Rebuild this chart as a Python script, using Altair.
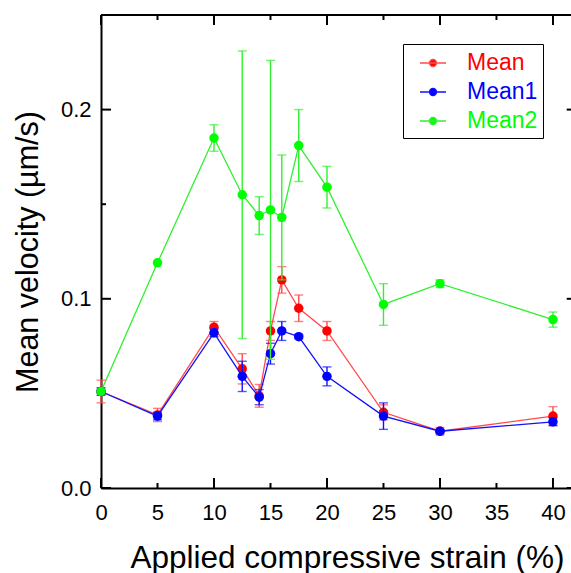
import altair as alt
import pandas as pd

# ---------------- data ----------------
strain = [0, 5, 10, 12.5, 14, 15, 16, 17.5, 20, 25, 30, 40]

mean = [0.051, 0.0386, 0.085, 0.063, 0.0487, 0.083, 0.110, 0.095, 0.083, 0.040, 0.030, 0.038]
mean_err = [0.006, 0.0035, 0.003, 0.008, 0.006, 0.005, 0.007, 0.007, 0.005, 0.004, 0.002, 0.005]

mean1 = [0.051, 0.038, 0.082, 0.059, 0.048, 0.071, 0.083, 0.080, 0.059, 0.038, 0.030, 0.035]
mean1_err = [0.002, 0.002, 0.002, 0.008, 0.004, 0.0055, 0.005, 0.001, 0.005, 0.007, 0.001, 0.002]

mean2 = [0.051, 0.119, 0.185, 0.155, 0.144, 0.147, 0.143, 0.181, 0.159, 0.097, 0.108, 0.089]
mean2_err = [0.0, 0.0, 0.007, 0.076, 0.010, 0.079, 0.033, 0.019, 0.011, 0.011, 0.002, 0.004]

series_names = ["Mean", "Mean1", "Mean2"]
dot_colors = ["#ff0000", "#0000ff", "#00ff00"]
line_colors = ["#ff4a4a", "#1010ff", "#30f030"]

x_labels = [0, 5, 10, 15, 20, 25, 30, 35, 40]
x_major = [0, 10, 20, 30, 40]
x_minor = [5, 15, 25, 35]
y_labels = [0.0, 0.1, 0.2]
y_major = [0.0, 0.1, 0.2]
y_minor = [0.05, 0.15]

# ---------------- geometry ----------------
X_MAX = 42.1
Y_MAX = 0.25
PLOT_W = 470
PLOT_H = 473
X_RANGE = 475.7          # plot frame continues past the window edge
x_per_px = X_MAX / X_RANGE
y_per_px = Y_MAX / PLOT_H
MAJ, MIN = 10, 5         # tick lengths in px

FONT = "Liberation Sans"

rows = []
for name, vals, errs in [("Mean", mean, mean_err), ("Mean1", mean1, mean1_err), ("Mean2", mean2, mean2_err)]:
    for s, v, e in zip(strain, vals, errs):
        rows.append({"series": name, "strain": s, "v": v, "lo": v - e, "hi": v + e, "err": e})
df = pd.DataFrame(rows)

xs = alt.Scale(domain=[0, X_MAX], range=[0, X_RANGE], nice=False, zero=False)
ys = alt.Scale(domain=[0, Y_MAX], nice=False, zero=False)

color_scale = alt.Scale(domain=series_names, range=dot_colors)

color_expr = (
    "datum.value == 'Mean' ? '#ff0000' : datum.value == 'Mean1' ? '#0000ff' : '#00ff00'"
)
line_expr = (
    "datum.value == 'Mean' ? '#ff4a4a' : datum.value == 'Mean1' ? '#1010ff' : '#30f030'"
)
symbol_path = "M-1,0H1M-0.27,0A0.27,0.27,0,1,1,0.27,0A0.27,0.27,0,1,1,-0.27,0Z"

legend = alt.Legend(
    orient="none", legendX=302, legendY=29, title=None,
    labelFont=FONT, labelFontSize=23,
    labelColor={"expr": color_expr},
    symbolType=symbol_path, symbolSize=676, symbolStrokeWidth=1.3,
    symbolStrokeColor={"expr": line_expr},
    strokeColor="black", fillColor="white", padding=5,
    symbolOffset=11, labelOffset=20, rowPadding=3,
)

x_axis = alt.Axis(
    values=x_labels, format="d", ticks=False, tickSize=0, labelPadding=14,
    labelFont=FONT, labelFontSize=22, labelColor="black", labelFlush=False,
    domainColor="black", domainWidth=2, grid=False,
    title="Applied compressive strain (%)", titleFont=FONT, titleFontSize=31.5,
    titleFontWeight="normal", titleColor="black",
    titleX=246, titleY=79, titleBaseline="alphabetic", titleAnchor="middle",
)
y_axis = alt.Axis(
    values=y_labels, format=".1f", ticks=False, tickSize=0, labelPadding=10,
    labelFont=FONT, labelFontSize=22, labelColor="black",
    domainColor="black", domainWidth=2, grid=False,
    title="Mean velocity (µm/s)", titleFont=FONT, titleFontSize=30.5,
    titleFontWeight="normal", titleColor="black",
    titleX=-64, titleY=236.5, titleBaseline="alphabetic", titleAngle=270,
)

layers = []
for i, name in enumerate(series_names):
    base = alt.Chart(df).transform_filter(alt.datum.series == name)
    err_base = base.transform_filter(alt.datum.err > 0)
    lc = line_colors[i]
    bars = err_base.mark_rule(strokeWidth=1.4, color=lc).encode(
        x=alt.X("strain:Q", scale=xs, axis=x_axis),
        y=alt.Y("lo:Q", scale=ys, axis=y_axis),
        y2="hi:Q",
    )
    cap_lo = err_base.mark_tick(orient="horizontal", size=9, thickness=1.4, color=lc).encode(
        x=alt.X("strain:Q", scale=xs), y=alt.Y("lo:Q", scale=ys),
    )
    cap_hi = err_base.mark_tick(orient="horizontal", size=9, thickness=1.4, color=lc).encode(
        x=alt.X("strain:Q", scale=xs), y=alt.Y("hi:Q", scale=ys),
    )
    line = base.mark_line(strokeWidth=1.3, color=lc).encode(
        x=alt.X("strain:Q", scale=xs), y=alt.Y("v:Q", scale=ys),
        order="strain:Q",
    )
    pts = base.mark_circle(size=90, opacity=1).encode(
        x=alt.X("strain:Q", scale=xs), y=alt.Y("v:Q", scale=ys),
        color=alt.Color("series:N", scale=color_scale, legend=legend),
    )
    layers += [bars, cap_lo, cap_hi, line, pts]

# ---------------- frame: top line and inward ticks ----------------
tick_rows = []
for t in x_major + x_minor:
    L = (MAJ if t in x_major else MIN) * y_per_px
    tick_rows.append({"x": t, "x2": t, "y": 0, "y2": L})
    tick_rows.append({"x": t, "x2": t, "y": Y_MAX, "y2": Y_MAX - L})
for t in y_major + y_minor:
    L = (MAJ if t in y_major else MIN) * x_per_px
    tick_rows.append({"x": 0, "x2": L, "y": t, "y2": t})
    tick_rows.append({"x": X_MAX, "x2": X_MAX - L, "y": t, "y2": t})
tick_rows.append({"x": 0, "x2": X_MAX, "y": Y_MAX, "y2": Y_MAX})
ticks_df = pd.DataFrame(tick_rows)

frame = alt.Chart(ticks_df).mark_rule(color="black", strokeWidth=2).encode(
    x=alt.X("x:Q", scale=xs), x2="x2:Q",
    y=alt.Y("y:Q", scale=ys), y2="y2:Q",
)

chart = alt.layer(frame, *layers).properties(
    width=PLOT_W, height=PLOT_H,
    autosize=alt.AutoSizeParams(type="none"),
    padding={"left": 101, "top": 15, "right": 0, "bottom": 85},
    background="white",
).configure_view(stroke=None)

chart.save("out.html", embed_options={"renderer": "svg", "actions": False})
